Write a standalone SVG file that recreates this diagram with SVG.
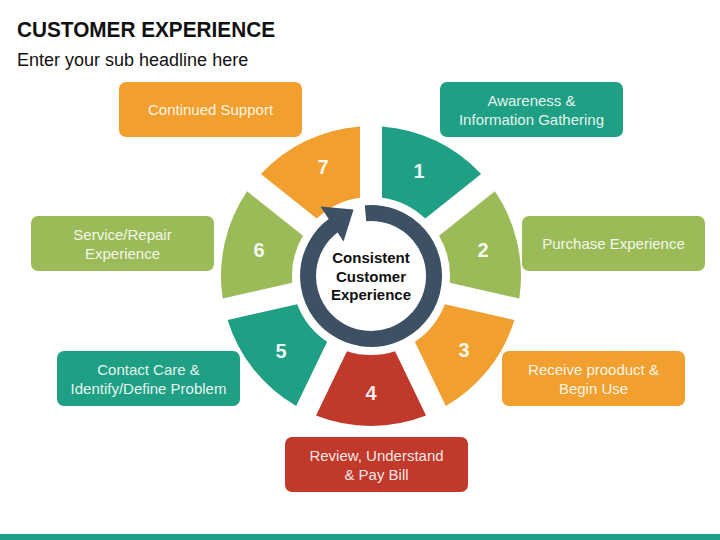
<svg xmlns="http://www.w3.org/2000/svg" width="720" height="540" viewBox="0 0 720 540">
<style>
.title{font-family:"Liberation Sans",Arial,sans-serif;font-weight:bold;font-size:22px;fill:#111}
.sub{font-family:"Liberation Sans",Arial,sans-serif;font-size:18px;fill:#111}
.lbl{font-family:"Liberation Sans",Arial,sans-serif;font-size:15px;fill:#fff;fill-opacity:0.9;text-anchor:middle}
.num{font-family:"Liberation Sans",Arial,sans-serif;font-weight:bold;font-size:20px;fill:#fff;fill-opacity:0.92;text-anchor:middle}
.ctr{font-family:"Liberation Sans",Arial,sans-serif;font-weight:bold;font-size:15px;fill:#111;text-anchor:middle}
.teal{fill:#1fa084}
.green{fill:#9bbb59}
.orange{fill:#f19f2e}
.red{fill:#c0392b}
</style>
<rect width="720" height="540" fill="#fff"/>
<text class="title" x="17" y="37" textLength="258" lengthAdjust="spacingAndGlyphs">CUSTOMER EXPERIENCE</text>
<text class="sub" x="17" y="66">Enter your sub headline here</text>

<g id="seg1"><path class="teal" d="M382,126.4 A150,150 0 0 1 481.08,174.11 L425.3,218.62 A79,79 0 0 0 382,197.77 Z"/><text class="num" x="419" y="178">1</text></g>
<g id="seg2"><path class="green" d="M494.83,191.35 A150,150 0 0 1 519.29,298.56 L449.72,282.68 A79,79 0 0 0 439.02,235.83 Z"/><text class="num" x="483" y="257">2</text></g>
<g id="seg3"><path class="orange" d="M514.39,320.01 A150,150 0 0 1 445.82,406.01 L414.86,341.71 A79,79 0 0 0 444.82,304.13 Z"/><text class="num" x="464" y="357">3</text></g>
<g id="seg4"><path class="red" d="M426,415.55 A150,150 0 0 1 316,415.55 L346.97,351.26 A79,79 0 0 0 395.03,351.26 Z"/><text class="num" x="371" y="400">4</text></g>
<g id="seg5"><path class="teal" d="M296.18,406.01 A150,150 0 0 1 227.61,320.01 L297.18,304.13 A79,79 0 0 0 327.14,341.71 Z"/><text class="num" x="281" y="358">5</text></g>
<g id="seg6"><path class="green" d="M222.71,298.56 A150,150 0 0 1 247.17,191.35 L302.98,235.83 A79,79 0 0 0 292.28,282.68 Z"/><text class="num" x="259" y="257">6</text></g>
<g id="seg7"><path class="orange" d="M260.92,174.11 A150,150 0 0 1 360,126.4 L360,197.77 A79,79 0 0 0 316.7,218.62 Z"/><text class="num" x="323" y="174">7</text></g>

<g id="center">
<path d="M365.5,213.2 A63,63 0 1 1 334,225" fill="none" stroke="#3e5064" stroke-width="16"/>
<polygon points="320.5,206.5 353.5,209.5 343.5,241.5" fill="#3e5064"/>
<text class="ctr" x="371" y="263">Consistent</text>
<text class="ctr" x="371" y="282">Customer</text>
<text class="ctr" x="371" y="300">Experience</text>
</g>

<g id="box7"><rect class="orange" x="119" y="82" width="183" height="55" rx="7"/><text class="lbl" x="210.5" y="115">Continued Support</text></g>
<g id="box1"><rect class="teal" x="440" y="82" width="183" height="55" rx="7"/><text class="lbl" x="531.5" y="106">Awareness &amp;</text><text class="lbl" x="531.5" y="125">Information Gathering</text></g>
<g id="box2"><rect class="green" x="522" y="216" width="183" height="55" rx="7"/><text class="lbl" x="613.5" y="249">Purchase Experience</text></g>
<g id="box6"><rect class="green" x="31" y="216" width="183" height="55" rx="7"/><text class="lbl" x="122.5" y="240">Service/Repair</text><text class="lbl" x="122.5" y="259">Experience</text></g>
<g id="box5"><rect class="teal" x="57" y="351" width="183" height="55" rx="7"/><text class="lbl" x="148.5" y="375">Contact Care &amp;</text><text class="lbl" x="148.5" y="394">Identify/Define Problem</text></g>
<g id="box3"><rect class="orange" x="502" y="351" width="183" height="55" rx="7"/><text class="lbl" x="593.5" y="375">Receive prooduct &amp;</text><text class="lbl" x="593.5" y="394">Begin Use</text></g>
<g id="box4"><rect class="red" x="285" y="437" width="183" height="55" rx="7"/><text class="lbl" x="376.5" y="461">Review, Understand</text><text class="lbl" x="376.5" y="480">&amp; Pay Bill</text></g>

<g id="connectors"></g>
<rect x="0" y="534" width="720" height="6" fill="#1fa084"/>
</svg>
